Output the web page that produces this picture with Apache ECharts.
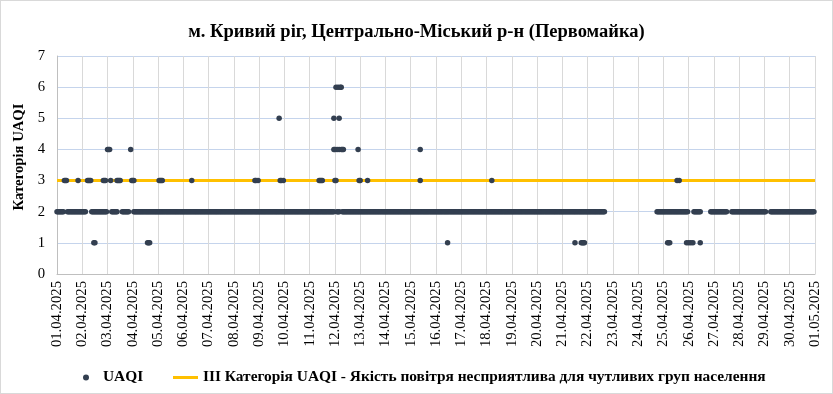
<!DOCTYPE html>
<html>
<head>
<meta charset="utf-8">
<script src="https://cdn.jsdelivr.net/npm/echarts@6/dist/echarts.min.js"></script>
<style>
html,body{margin:0;padding:0;background:#fff;}
#c{width:833px;height:394px;box-sizing:border-box;border:1px solid #d9d9d9;}
</style>
</head>
<body>
<div id="c"></div>
<script>
// Tick labels (one per day, 01.04.2025 .. 01.05.2025)
var dayLabels = ["01.04.2025","02.04.2025","03.04.2025","04.04.2025","05.04.2025","06.04.2025","07.04.2025","08.04.2025","09.04.2025","10.04.2025","11.04.2025","12.04.2025","13.04.2025","14.04.2025","15.04.2025","16.04.2025","17.04.2025","18.04.2025","19.04.2025","20.04.2025","21.04.2025","22.04.2025","23.04.2025","24.04.2025","25.04.2025","26.04.2025","27.04.2025","28.04.2025","29.04.2025","30.04.2025","01.05.2025"];
// Hourly readings of category 2, one string of 24 hours per day ('.' = no reading of 2)
var hourlyCat2 = [
"2222222...22222222222222", // 01.04
"2222.....222222222222222", // 02.04
"....222222....2222222...", // 03.04
".22222222222222222222222", // 04.04
"222222222222222222222222", // 05.04
"222222222222222222222222", // 06.04
"222222222222222222222222", // 07.04
"222222222222222222222222", // 08.04
"222222222222222222222222", // 09.04
"222222222222222222222222", // 10.04
"222222222222222222222222", // 11.04
"..222..22222222222222222", // 12.04
"222222222222222222222222", // 13.04
"222222222222222222222222", // 14.04
"222222222222222222222222", // 15.04
"222222222222222222222222", // 16.04
"222222222222222222222222", // 17.04
"222222222222222222222222", // 18.04
"222222222222222222222222", // 19.04
"222222222222222222222222", // 20.04
"222222222222222222222222", // 21.04
"22222222222222222.......", // 22.04
"........................", // 23.04
"..................222222", // 24.04
"222222222222222222222222", // 25.04
".....2222222.........222", // 26.04
"2222222222222....2222222", // 27.04
"222222222222222222222222", // 28.04
"22....222222222222222222", // 29.04
"222222222222222222222222"  // 30.04
];
// Other readings (categories 1, 3, 4, 5, 6): hour index from 01.04 00:00 and category
var otherHours = [7,8,9,20, 29,30,31,32,35,36,44,45,46, 48,49,50,51,57,58,59,60,70,71, 72,73,86,87,88, 97,98,99,100, 128, 188,189,191, 211,212,213,215, 249,250,251,252, 263,263,264,264,265,265,266,267,268,268,269,270,270,271,272, 286,287,288,295, 345,345, 371, 413, 492,498,499,500,501, 580,581,582,589,591, 598,600,602,604,611];
var otherValues = [3,3,3,3, 3,3,3,3,1,1,3,3,3, 4,4,4,3,3,3,3,3,4,3, 3,3,1,1,1, 3,3,3,3, 3, 3,3,3, 5,3,3,3, 3,3,3,3, 5,4,3,4,3,6,4,6,5,4,6,4,6,4,4, 4,3,3,3, 4,3, 1, 3, 1,1,1,1,1, 1,1,1,3,3, 1,1,1,1,1];
// Threshold (III category)
var thresholdValue = 3;
var seriesNames = ["UAQI", "III Категорія UAQI - Якість повітря несприятлива для чутливих груп населення"];

var pts = [];
hourlyCat2.forEach(function(s, d){
  for (var h = 0; h < 24; h++) {
    var c = s.charAt(h);
    if (c && c !== '.') pts.push([d*24 + h, Number(c)]);
  }
});
otherHours.forEach(function(h, i){ pts.push([h, otherValues[i]]); });
var totalHours = (dayLabels.length - 1) * 24;

var FF = "'Liberation Serif','Times New Roman',serif";
var chart = echarts.init(document.getElementById('c'), null, {renderer:'canvas'});
chart.setOption({
  animation:false,
  textStyle:{fontFamily:FF},
  title:{text:"м. Кривий ріг, Центрально-Міський р-н (Первомайка)", left:'center', top:17,
    textStyle:{fontFamily:FF, fontSize:18.5, fontWeight:'bold', color:'#000'}},
  grid:{left:56, right:17, top:55, bottom:119, containLabel:false},
  legend:[
    {data:[{name:seriesNames[0], icon:'circle'}], left:82, top:369, padding:0, itemWidth:6, itemHeight:6,
     textStyle:{fontFamily:FF, fontSize:15.4, fontWeight:'bold', color:'#000', padding:[0,0,0,9]}},
    {data:[{name:seriesNames[1], icon:'rect'}], left:172, top:369, padding:0, itemWidth:25, itemHeight:3,
     textStyle:{fontFamily:FF, fontSize:15.4, fontWeight:'bold', color:'#000'}}
  ],
  xAxis:{type:'value', min:0, max:totalHours, interval:24,
    axisLine:{show:true, lineStyle:{color:'#bfbfbf'}},
    axisTick:{show:false},
    splitLine:{show:true, lineStyle:{color:'#d9d9d9'}},
    axisLabel:{rotate:90, fontFamily:FF, fontSize:14.7, color:'#000', margin:7,
      formatter:function(v){ return dayLabels[Math.round(v/24)] || ''; }}
  },
  yAxis:{type:'value', min:0, max:7, interval:1,
    name:'Категорія UAQI', nameLocation:'middle', nameGap:29, nameRotate:90,
    nameTextStyle:{fontFamily:FF, fontSize:14.7, fontWeight:'bold', color:'#000', padding:[0,0,0,16]},
    axisLine:{show:true, lineStyle:{color:'#bfbfbf'}},
    axisTick:{show:false},
    splitLine:{show:true, lineStyle:{color:'#c5d4ec'}},
    axisLabel:{fontFamily:FF, fontSize:14.7, color:'#000', margin:12}
  },
  series:[
    {name:seriesNames[1], type:'line', data:[[0,thresholdValue],[totalHours,thresholdValue]],
     showSymbol:false, symbol:'none', lineStyle:{color:'#ffc000', width:3}, itemStyle:{color:'#ffc000'}, z:2},
    {name:seriesNames[0], type:'scatter', data:pts, symbolSize:5.5,
     itemStyle:{color:'#333f50', opacity:1}, z:3}
  ]
});
</script>
</body>
</html>
